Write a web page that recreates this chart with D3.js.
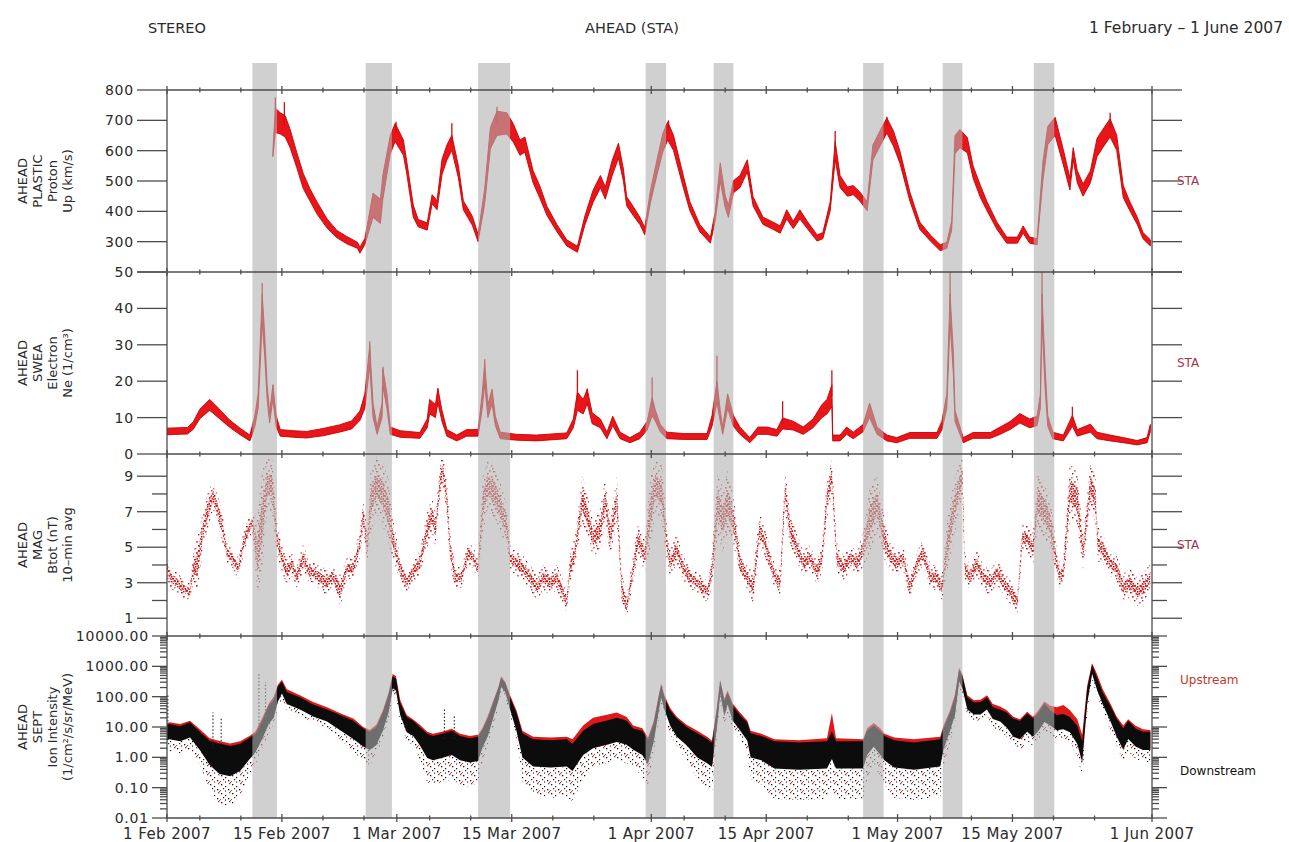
<!DOCTYPE html>
<html>
<head>
<meta charset="utf-8">
<script src="https://cdn.jsdelivr.net/npm/d3@7"></script>
<style>
  html, body { margin: 0; background: #fff; }
  text { font-family: "DejaVu Sans", "Liberation Sans", sans-serif; }
</style>
</head>
<body>
<svg id="chart" width="1289" height="842"></svg>
<script>
// ---------------------------------------------------------------
// STEREO-A in-situ overview, 1 Feb – 1 Jun 2007
// Times are days after 1 Feb 2007 00:00 UT.
// ---------------------------------------------------------------

// Shaded intervals (stream interaction regions)
const bandStart = [10.4, 24.2, 37.9, 58.3, 66.6, 84.8, 94.5, 105.6];
const bandEnd   = [13.4, 27.4, 41.8, 60.8, 69.0, 87.3, 96.9, 108.1];

// PLASTIC proton bulk speed: [day, mid value km/s, half spread]
const protonSpeed = [
  [12.9,590,10],[13.2,700,40],[13.8,690,35],[14.4,680,35],[15.0,640,30],[15.8,570,25],
  [16.6,500,25],[17.4,455,20],[18.3,410,20],[19.5,360,15],[20.7,325,12],[21.9,305,12],
  [23.2,288,10],[23.5,272,10],[24.1,300,10],[25.1,420,40],[26.0,400,40],[26.3,480,40],
  [27.2,620,30],[27.8,660,30],[28.8,610,25],[29.2,546,20],[30.0,401,20],[30.6,361,12],
  [31.7,350,12],[32.3,440,15],[32.9,420,15],[33.5,546,25],[34.1,594,25],[34.7,626,25],
  [35.5,530,20],[36.1,420,15],[37.2,369,15],[37.9,312,12],[38.7,449,25],[39.4,642,35],
  [40.2,690,40],[41.4,690,35],[42.2,658,30],[43.0,610,25],[43.6,620,25],[44.6,514,20],
  [45.4,465,20],[46.3,401,15],[47.5,345,12],[48.7,296,10],[50.0,275,10],[50.9,369,15],
  [51.9,449,20],[52.8,498,20],[53.4,460,20],[54.2,540,25],[55.0,600,25],[55.6,520,20],
  [56.0,433,15],[56.8,401,15],[57.6,369,12],[58.2,335,12],[58.9,449,20],[59.7,546,25],
  [60.4,626,30],[61.0,665,30],[61.7,626,25],[62.9,498,20],[63.7,417,15],[64.9,345,12],
  [66.2,305,10],[66.8,385,15],[67.4,530,30],[68.0,433,20],[68.4,400,20],[69.0,481,20],
  [69.8,498,20],[70.7,550,20],[71.4,433,15],[72.6,369,12],[73.8,353,12],[74.7,340,12],
  [75.5,390,15],[76.3,355,12],[77.1,390,15],[78.0,355,12],[79.2,312,10],[79.9,320,10],
  [80.8,417,15],[81.4,600,30],[82.0,498,20],[82.9,465,15],[83.6,470,15],[84.4,449,15],
  [85.3,417,15],[86.0,594,25],[86.9,642,25],[87.7,683,25],[88.5,640,25],[89.3,578,20],
  [90.5,449,15],[91.7,353,12],[93.0,312,10],[94.2,280,10],[95.0,288,10],[95.6,353,15],
  [96.0,620,30],[96.6,640,30],[97.5,618,25],[98.2,530,20],[99.1,465,20],[99.9,417,15],
  [101.1,353,12],[102.3,305,10],[103.6,305,10],[104.3,340,12],[105.1,305,10],[106.0,300,10],
  [106.7,530,30],[107.3,650,30],[108.2,680,30],[109.2,578,25],[110.0,490,20],[110.4,590,20],
  [110.9,514,20],[111.6,470,20],[112.5,514,20],[113.3,610,30],[114.0,640,30],[114.9,675,30],
  [115.7,626,25],[116.5,465,20],[117.3,417,15],[118.2,369,12],[118.9,320,10],[119.8,296,10]
];
// isolated speed excursions: [day, from, to]
const protonSpikes = [
  [13.2,700,775],[14.3,680,760],[27.9,660,695],[34.7,626,690],[40.2,690,745],
  [61.1,665,700],[81.4,600,665],[87.7,683,712],[108.2,680,708],[114.9,675,725]
];

// SWEA electron density: [day, mid value 1/cm3, half spread]
const electronDensity = [
  [0.0,6.2,0.9],[2.5,6.4,0.9],[3.2,7.8,1.0],[4.0,11,1.3],[5.2,13.5,1.5],[6.4,11,1.3],
  [7.6,8.4,1.0],[8.9,6.2,0.9],[10.1,4.4,0.8],[10.7,9,1.5],[11.1,14.5,2],[11.6,40,4],
  [11.9,30,3],[12.2,17,2],[12.5,10,1.5],[12.9,17,2],[13.3,9,1.5],[13.8,5.8,0.9],
  [15.4,5.5,0.9],[17.0,5.3,0.9],[19.0,6.0,1.0],[21.0,7.0,1.0],[22.5,8.0,1.1],[23.5,10.5,1.3],
  [24.1,14.5,2],[24.7,27,3],[25.1,12,2],[25.6,6.4,1],[26.2,12,2],[26.3,21,2.5],
  [26.8,14.5,2],[27.2,6.4,1],[28.4,5.5,0.9],[30.8,5.1,0.8],[31.7,8.4,1.2],[32.0,13,2],
  [32.7,11.8,1.8],[33.0,16,2],[33.5,10.5,1.5],[34.1,5.8,0.9],[35.3,4.4,0.8],[36.5,5.8,0.9],
  [37.9,5.8,0.9],[38.4,14.5,2],[38.7,22,3],[39.1,11.8,1.8],[39.6,15.8,2],[40.0,9.1,1.3],
  [40.6,5.1,0.9],[42.6,4.6,0.8],[45.0,4.4,0.8],[48.7,5.0,0.8],[49.5,8.4,1.2],[50.0,14.5,2.5],
  [50.7,13,2],[51.2,15.8,2],[51.8,9.8,1.5],[52.8,8.4,1.2],[53.6,5.1,0.9],[54.3,9.1,1.3],
  [55.2,5.1,0.9],[56.4,3.8,0.7],[57.6,5.1,0.9],[58.5,7.8,1.2],[59.1,13,2.5],[59.5,10.5,1.5],
  [60.1,7.1,1],[60.9,5.1,0.9],[63.0,4.8,0.8],[65.8,4.8,0.8],[66.4,9.1,1.5],[67.0,17,3],
  [67.4,10.5,1.5],[67.7,6.4,1],[68.3,14.5,2],[69.0,9.1,1.5],[69.8,6.4,1],[71.0,3.8,0.7],
  [72.0,6.4,1],[73.1,6.4,1],[74.3,5.8,0.9],[75.0,8.4,1.5],[76.3,7.8,1.2],[77.5,6.4,1],
  [78.7,8.4,1.2],[79.8,11.8,1.8],[80.4,13,2],[81.0,16,3],[81.1,4.4,0.8],[82.0,4.4,0.8],
  [82.8,6.4,1],[83.6,5.1,0.9],[84.8,7.1,1],[85.6,12,2],[86.5,6.4,1],[87.7,4.4,0.8],
  [88.9,3.8,0.7],[90.5,5.1,0.8],[93.8,5.1,0.8],[94.4,7.8,1.2],[95.0,14.5,2],[95.4,40,4],
  [95.8,25,3],[96.0,10.5,1.5],[96.4,7.8,1.2],[97.0,3.8,0.7],[98.2,5.1,0.8],[100.3,5.1,0.8],
  [101.5,6.4,1],[102.7,7.8,1.1],[103.9,9.8,1.3],[105.1,8.4,1.2],[106.0,9.1,1.3],[106.4,14.5,2],
  [106.6,40,4],[107.0,20,3],[107.3,9.1,1.5],[107.9,5.1,0.9],[109.2,4.4,0.8],[110.3,9.1,1.5],
  [110.9,5.8,0.9],[112.5,7.1,1.1],[113.3,5.1,0.9],[114.9,4.4,0.8],[116.5,3.8,0.7],
  [118.2,3.1,0.6],[119.4,3.8,0.7],[119.8,7.1,1]
];
const electronSpikes = [
  [11.6,40,47],[12.9,17,19],[24.7,27,31],[26.3,21,24],[33.0,16,18],[38.7,22,26],
  [50.0,14.5,23],[51.2,15.8,18],[59.1,13,21],[67.0,17,27],[75.0,8.4,14.5],[81.0,16,23],
  [95.4,40,50],[106.6,40,50],[110.3,9.1,13]
];

// MAG |B|, 10-min averages: [day, typical value nT, scatter half width]
const fieldStrength = [
  [0.0,3.9,0.6],[0.4,3.3,0.6],[1.2,3.0,0.6],[2.2,2.6,0.5],[2.8,2.5,0.5],[3.2,3.8,0.8],
  [3.7,4.0,1.6],[4.4,6.0,1.0],[5.0,7.1,1.0],[5.6,7.9,0.8],[6.2,7.1,0.8],[6.8,6.0,0.8],
  [7.3,4.7,0.6],[7.9,4.4,0.5],[8.7,3.8,0.6],[9.3,5.2,0.7],[9.9,6.0,0.6],[10.4,6.4,0.6],
  [11.0,4.5,2.2],[11.6,6.5,2.8],[12.2,8.5,1.5],[12.8,8.5,1.5],[13.4,5.5,1.0],[14.0,4.4,0.8],
  [14.6,3.6,0.7],[15.2,4.1,0.7],[15.8,3.3,0.6],[16.6,4.4,0.8],[17.2,3.7,0.6],[17.8,3.6,0.6],
  [18.6,3.3,0.7],[19.5,3.0,0.7],[20.2,3.4,0.6],[21.1,2.5,0.9],[21.9,3.8,0.6],[22.7,3.8,0.6],
  [23.5,5.2,0.8],[23.9,6.8,0.8],[24.4,5.0,1.0],[24.8,7.5,1.8],[25.5,8.5,1.6],[26.3,8.0,1.8],
  [27.0,7.0,1.8],[27.5,5.5,1.2],[28.4,3.8,0.7],[29.2,3.0,0.6],[30.0,3.6,0.6],[30.8,4.1,0.7],
  [31.7,6.0,1.0],[32.3,6.8,1.0],[32.7,6.0,1.0],[33.3,8.8,1.0],[33.6,9.4,0.8],[34.1,7.7,1.2],
  [34.5,4.9,1.0],[35.1,3.3,0.6],[35.9,3.3,0.6],[36.7,4.7,0.6],[37.3,4.4,0.6],[37.9,3.8,0.6],
  [38.5,7.5,1.6],[39.1,8.5,1.4],[40.0,8.0,1.4],[40.8,7.0,1.4],[41.4,6.2,1.0],[41.8,4.4,0.7],
  [42.6,4.1,0.7],[43.4,3.8,0.7],[44.2,3.3,0.7],[45.1,2.7,0.7],[45.8,3.3,0.7],[46.7,3.0,0.7],
  [47.5,3.3,0.7],[48.2,2.5,0.7],[48.7,1.9,0.6],[49.1,3.8,0.8],[49.7,4.7,0.9],[50.6,7.7,1.3],
  [51.2,6.8,1.2],[51.9,5.5,1.0],[52.8,6.0,1.2],[53.4,7.7,1.3],[54.0,5.5,1.0],[54.8,7.7,1.3],
  [55.4,2.7,0.9],[56.0,1.6,0.6],[56.8,3.8,0.8],[57.4,5.5,0.9],[58.2,4.5,0.9],[58.9,7.0,2.0],
  [59.5,8.5,1.5],[60.3,8.0,1.6],[60.9,5.2,1.0],[61.3,4.1,0.8],[62.1,4.9,0.8],[62.9,3.8,0.7],
  [63.7,3.3,0.6],[64.6,3.0,0.6],[65.3,2.7,0.6],[65.9,2.5,0.6],[66.4,3.8,1.0],[67.1,7.5,1.8],
  [67.7,6.5,1.8],[68.3,7.5,1.8],[69.0,6.5,1.5],[69.4,5.5,1.0],[69.8,4.1,0.8],[70.7,3.3,0.7],
  [71.4,2.7,0.9],[72.2,6.0,1.0],[72.9,5.2,0.8],[73.5,4.1,0.7],[74.1,3.3,0.7],[74.7,3.0,0.7],
  [75.3,8.2,1.2],[75.9,6.0,1.0],[76.8,4.9,0.8],[77.5,4.1,0.7],[78.3,4.4,0.7],[79.2,3.6,0.7],
  [79.8,4.4,0.8],[80.4,7.7,1.2],[81.0,9.0,0.9],[81.6,4.4,0.9],[82.4,3.8,0.7],[83.2,4.4,0.7],
  [84.1,4.1,0.7],[84.8,4.9,1.0],[85.6,6.5,1.8],[86.5,7.5,1.6],[87.4,5.5,1.2],[88.1,4.5,0.8],
  [88.9,4.1,0.7],[89.7,4.4,0.7],[90.5,2.7,0.7],[91.4,4.1,0.7],[92.1,4.7,0.7],[93.0,3.3,0.7],
  [93.8,3.3,0.7],[94.4,2.7,0.8],[95.0,4.9,1.4],[95.8,7.0,1.6],[96.4,8.2,1.4],[96.9,9.0,1.0],
  [97.2,3.8,0.8],[97.8,3.3,0.7],[98.7,4.1,0.7],[99.4,3.3,0.7],[100.3,3.0,0.7],[101.1,3.6,0.7],
  [101.9,3.0,0.7],[102.7,2.5,0.7],[103.6,1.9,0.6],[104.2,5.5,0.8],[104.8,5.5,0.7],[105.5,4.9,0.9],
  [106.1,7.7,1.6],[107.0,7.0,1.6],[107.6,6.3,1.4],[108.4,4.1,0.8],[108.8,3.3,0.7],[109.2,3.6,0.8],
  [110.0,8.2,1.6],[110.9,7.7,1.5],[111.6,4.7,1.0],[112.5,8.5,1.3],[113.1,7.7,1.3],[113.4,5.2,1.0],
  [114.0,4.9,0.8],[114.9,4.1,0.7],[115.7,3.8,0.7],[116.5,2.7,0.8],[117.3,3.0,0.8],[118.2,2.5,0.8],
  [118.9,2.7,0.8],[119.8,3.3,0.8]
];

// SEPT ion intensity: [day, downstream, upstream, core width (decades), low scatter (decades)]
const ionIntensity = [
  [0.0,6.5,7.5,0.25,0.4],[0.3,7,8,0.25,0.4],[1.6,6,7,0.25,0.4],[2.8,8,9,0.25,0.4],
  [4.0,3.5,4.2,0.3,0.5],[5.2,1.4,1.7,0.4,0.8],[6.4,0.9,1.1,0.5,1.0],[7.7,0.75,0.9,0.5,1.0],
  [8.9,1.0,1.2,0.45,0.8],[10.1,2.0,2.3,0.35,0.5],[10.8,3,3.6,0.3,0.4],[11.6,8,10,0.3,0.3],
  [12.4,25,30,0.3,0.3],[13.0,40,50,0.3,0.2],[13.5,120,140,0.25,0.2],[14.0,200,230,0.2,0.2],
  [14.6,90,110,0.2,0.2],[16.2,60,70,0.2,0.2],[17.8,35,42,0.2,0.2],[19.5,24,28,0.2,0.2],
  [21.1,14,16,0.25,0.3],[22.7,8,9.5,0.3,0.4],[23.9,4.5,5,0.3,0.5],[24.7,3.5,4,0.3,0.5],
  [25.5,5,6,0.3,0.3],[26.3,15,18,0.3,0.3],[27.0,60,70,0.3,0.3],[27.5,300,350,0.2,0.2],
  [27.9,250,300,0.2,0.2],[28.4,40,50,0.2,0.2],[29.2,12,14,0.25,0.3],[30.0,9,10,0.25,0.3],
  [30.8,5,6,0.3,0.5],[31.7,2.4,2.8,0.4,0.8],[32.4,2.0,2.4,0.4,0.8],[33.5,2.4,2.8,0.4,0.8],
  [34.7,3,3.5,0.4,0.8],[35.7,2.0,2.4,0.4,0.8],[36.9,1.7,2.0,0.4,0.8],[37.9,1.9,2.2,0.4,0.7],
  [38.4,4,4.5,0.3,0.5],[39.1,10,12,0.3,0.3],[39.8,40,45,0.25,0.3],[40.4,126,140,0.2,0.2],
  [40.7,300,330,0.15,0.2],[41.2,200,220,0.15,0.2],[41.8,60,70,0.2,0.2],[42.6,14,17,0.3,0.3],
  [43.3,2.5,3,0.4,0.8],[44.6,1.4,1.7,0.45,0.9],[46.7,1.3,1.6,0.45,1.0],[48.7,1.4,1.7,0.45,1.0],
  [49.4,1.0,1.4,0.45,1.0],[50.7,3,4.5,0.4,0.8],[51.9,5,8,0.4,0.6],[53.6,6.5,10,0.4,0.6],
  [54.8,8,12,0.4,0.6],[56.0,6.5,8.5,0.4,0.6],[56.8,4,5,0.35,0.6],[57.9,3,3.6,0.4,0.7],
  [58.6,1.5,1.8,0.4,0.7],[59.3,6.6,8,0.3,0.4],[59.8,40,45,0.25,0.3],[60.2,150,170,0.2,0.2],
  [60.6,60,70,0.2,0.2],[61.3,20,24,0.25,0.3],[62.1,9.5,11,0.3,0.3],[63.3,5,6,0.3,0.5],
  [64.6,2.5,3,0.4,0.7],[65.8,1.6,1.9,0.4,0.8],[66.4,1.2,1.4,0.4,0.8],[67.0,20,24,0.3,0.3],
  [67.4,200,220,0.2,0.3],[67.9,40,48,0.25,0.3],[68.3,87,100,0.2,0.3],[68.9,29,34,0.25,0.3],
  [69.8,14,17,0.25,0.3],[70.7,7,8,0.3,0.4],[71.1,2.5,3,0.4,0.7],[72.4,2.0,2.4,0.4,0.8],
  [74.0,1.2,1.4,0.45,1.0],[77.0,1.1,1.3,0.45,1.0],[80.4,1.2,1.5,0.45,1.0],[81.0,2.5,10,0.45,0.9],
  [81.5,1.2,1.5,0.45,1.0],[84.8,1.2,1.4,0.45,1.0],[85.3,3,3.6,0.4,0.8],[86.1,5,6,0.35,0.6],
  [86.9,3,3.6,0.4,0.7],[87.4,2,2.4,0.4,0.8],[88.6,1.3,1.6,0.45,1.0],[91.0,1.1,1.4,0.45,1.0],
  [94.2,1.4,1.7,0.45,1.0],[94.6,4,5,0.35,0.6],[95.4,15,18,0.3,0.4],[96.0,50,60,0.3,0.3],
  [96.5,500,560,0.2,0.2],[96.9,300,340,0.2,0.2],[97.5,60,70,0.2,0.2],[98.3,41,48,0.2,0.2],
  [99.1,41,50,0.2,0.2],[99.9,60,70,0.2,0.2],[100.6,29,36,0.2,0.3],[101.5,24,30,0.2,0.3],
  [102.3,17,20,0.25,0.3],[103.1,9.5,11,0.3,0.3],[103.9,7.9,9,0.3,0.4],[104.8,14,16,0.3,0.3],
  [105.5,9.5,11,0.3,0.3],[106.1,14,17,0.3,0.3],[106.9,29,35,0.3,0.3],[107.6,20,28,0.25,0.3],
  [108.4,14,25,0.25,0.3],[109.2,15,30,0.25,0.3],[110.0,12,20,0.25,0.3],[110.9,5.5,9,0.3,0.4],
  [111.5,1.5,2.5,0.35,0.5],[112.1,100,130,0.25,0.3],[112.7,800,900,0.15,0.2],[113.3,270,350,0.2,0.2],
  [114.0,87,110,0.2,0.2],[114.9,29,35,0.25,0.3],[115.7,9.5,11,0.3,0.3],[116.5,4,5,0.35,0.4],
  [117.1,8,9,0.3,0.4],[118.0,4.5,5.5,0.3,0.4],[118.9,3.5,4.2,0.3,0.4],[119.8,3.5,4,0.3,0.4]
];
// short intensity bursts: [day, from, to]
const ionSpikes = [
  [0.1,9,120],[5.6,2,30],[6.6,2,20],[11.2,12,600],[12.0,20,300],[27.6,300,450],
  [33.8,4,40],[35.0,4,25],[40.8,300,420],[60.3,150,250],[67.4,200,320],[96.6,500,700],
  [112.7,900,1200]
];

// Axis ticks and labels
const speedTicks = [300, 400, 500, 600, 700, 800];
const densityTicks = [0, 10, 20, 30, 40, 50];
const fieldTicks = [1, 3, 5, 7, 9];
const fieldMinorTicks = [2, 4, 6, 8];
const intensityTicks = [0.01, 0.1, 1, 10, 100, 1000, 10000];
const dateLabels = ["1 Feb 2007", "15 Feb 2007", "1 Mar 2007", "15 Mar 2007", "1 Apr 2007",
                    "15 Apr 2007", "1 May 2007", "15 May 2007", "1 Jun 2007"];
const minorDays = [5, 10, 20, 25];

const panelTitles = [
  ["AHEAD", "PLASTIC", "Proton", "Up (km/s)"],
  ["AHEAD", "SWEA", "Electron", "Ne (1/cm³)"],
  ["AHEAD", "MAG", "Btot (nT)", "10–min avg"],
  ["AHEAD", "SEPT", "Ion Intensity", "(1/cm²/s/sr/MeV)"]
];

// ---------------------------------------------------------------
const svg = d3.select("#chart");
svg.append("rect").attr("width", 1289).attr("height", 842).attr("fill", "#fff");

const X0 = 167, X1 = 1152;
const edges = [90, 272, 454, 636, 818];
const axisColor = "#4d4d4d", textColor = "#2b2b2b";

const t0 = Date.UTC(2007, 1, 1);
const toDate = d => new Date(t0 + d * 864e5);
const x = d3.scaleUtc().domain([toDate(0), toDate(120)]).range([X0, X1]);
const xd = d => x(toDate(d[0]));

const ySpeed = d3.scaleLinear().domain([200, 800]).range([edges[1], edges[0]]);
const yDens  = d3.scaleLinear().domain([0, 50]).range([edges[2], edges[1]]);
const yField = d3.scaleLinear().domain([0, 10.25]).range([edges[3], edges[2]]);
const yIon   = d3.scaleLog().domain([0.01, 10000]).range([edges[4], edges[3]]);

// ---------- defs: clip regions and dot textures ----------
const defs = svg.append("defs");
for (let i = 0; i < 4; i++) {
  defs.append("clipPath").attr("id", "clip" + i)
    .append("rect").attr("x", X0).attr("y", edges[i])
    .attr("width", X1 - X0).attr("height", edges[i + 1] - edges[i]);
}
function dotTexture(id, w, h, dots) {
  const p = defs.append("pattern").attr("id", id)
    .attr("patternUnits", "userSpaceOnUse").attr("width", w).attr("height", h);
  dots.forEach(([dx, dy, c, s]) =>
    p.append("rect").attr("x", dx).attr("y", dy).attr("width", s).attr("height", s).attr("fill", c));
}
dotTexture("fieldSparse", 13, 11, [
  [1,2,"#d42a2a",1.7],[6,0,"#8a1c1c",1.4],[10,3,"#e24a4a",1.7],[3,6,"#b02020",1.4],
  [8,8,"#e86060",1.7],[12,9,"#9a1a1a",1.4],[0,9,"#e05050",1.4],[11,6,"#c83030",1.4],
  [5,4,"#f07070",1.5]
]);
dotTexture("fieldDense", 6, 5, [
  [0,0,"#e01010",1.9],[3,1,"#a01010",1.5],[1.5,2.6,"#f03030",1.9],[4.5,3,"#c01818",1.6],
  [2.5,4.2,"#901010",1.3],[5,0.5,"#e83a3a",1.2]
]);
dotTexture("ionScatter", 11, 9, [
  [1,1,"#111",1.3],[5,3,"#111",1.2],[9,0,"#c22",1.3],[3,5,"#222",1.2],
  [8,6,"#111",1.3],[10,8,"#c33",1.2],[5,7.5,"#111",1.1],[0,7,"#d33",1.1]
]);

const dataLayer = svg.append("g");
const red = "#e8161b";

// ---------- panel 1: proton speed ----------
const g1 = dataLayer.append("g").attr("clip-path", "url(#clip0)");
g1.append("path").datum(protonSpeed)
  .attr("d", d3.area().x(xd).y0(d => ySpeed(d[1] - d[2])).y1(d => ySpeed(d[1] + d[2])))
  .attr("fill", red).attr("stroke", "#c80000").attr("stroke-width", 0.9);
g1.selectAll("line").data(protonSpikes).join("line")
  .attr("x1", xd).attr("x2", xd).attr("y1", d => ySpeed(d[1])).attr("y2", d => ySpeed(d[2]))
  .attr("stroke", "#c81010").attr("stroke-width", 1.3);

// ---------- panel 2: electron density ----------
const g2 = dataLayer.append("g").attr("clip-path", "url(#clip1)");
g2.append("path").datum(electronDensity)
  .attr("d", d3.area().x(xd).y0(d => yDens(d[1] - d[2])).y1(d => yDens(d[1] + d[2])))
  .attr("fill", red).attr("stroke", "#c80000").attr("stroke-width", 0.9);
g2.selectAll("line").data(electronSpikes).join("line")
  .attr("x1", xd).attr("x2", xd).attr("y1", d => yDens(d[1])).attr("y2", d => yDens(d[2]))
  .attr("stroke", "#d01010").attr("stroke-width", 1.3);

// ---------- panel 3: magnetic field ----------
const g3 = dataLayer.append("g").attr("clip-path", "url(#clip2)");
g3.append("path").datum(fieldStrength)
  .attr("d", d3.area().x(xd).y0(d => yField(d[1] - d[2])).y1(d => yField(d[1] + d[2])))
  .attr("fill", "url(#fieldSparse)");
g3.append("path").datum(fieldStrength)
  .attr("d", d3.area().x(xd).y0(d => yField(d[1] - 0.4 * d[2])).y1(d => yField(d[1] + 0.4 * d[2])))
  .attr("fill", "url(#fieldDense)");

// ---------- panel 4: ion intensity ----------
const g4 = dataLayer.append("g").attr("clip-path", "url(#clip3)");
g4.append("path").datum(ionIntensity)
  .attr("d", d3.area().x(xd)
    .y0(d => yIon(d[1] * Math.pow(10, -d[3] - d[4])))
    .y1(d => yIon(d[1] * Math.pow(10, -d[3]))))
  .attr("fill", "url(#ionScatter)");
g4.append("path").datum(ionIntensity)
  .attr("d", d3.area().x(xd)
    .y0(d => yIon(d[2] * Math.pow(10, -d[3])))
    .y1(d => yIon(d[2] * Math.pow(10, d[3]))))
  .attr("fill", "#e01818");
g4.append("path").datum(ionIntensity)
  .attr("d", d3.area().x(xd)
    .y0(d => yIon(d[1] * Math.pow(10, -d[3])))
    .y1(d => yIon(d[1] * Math.pow(10, d[3]))))
  .attr("fill", "#0c0c0c");
g4.selectAll("line").data(ionSpikes).join("line")
  .attr("x1", xd).attr("x2", xd).attr("y1", d => yIon(d[1])).attr("y2", d => yIon(d[2]))
  .attr("stroke", "#222").attr("stroke-width", 1.1).attr("stroke-dasharray", "1.5,2");

// ---------- shaded intervals (drawn over the data, translucent) ----------
svg.append("g").selectAll("rect").data(d3.zip(bandStart, bandEnd)).join("rect")
  .attr("x", d => x(toDate(d[0])))
  .attr("width", d => x(toDate(d[1])) - x(toDate(d[0])))
  .attr("y", 63).attr("height", edges[4] - 63)
  .attr("fill", "#b0b0b0").attr("opacity", 0.6);

// ---------- axes ----------
const ax = svg.append("g").attr("stroke", axisColor).attr("stroke-width", 1.3);
ax.append("line").attr("x1", X0).attr("x2", X0).attr("y1", edges[0]).attr("y2", edges[4]);
ax.append("line").attr("x1", X1).attr("x2", X1).attr("y1", edges[0]).attr("y2", edges[4]);

// time ticks on every panel edge
const parseLabel = d3.utcParse("%d %b %Y");
const majorDates = dateLabels.map(parseLabel);
const minorDates = d3.utcDay.range(toDate(0), toDate(120))
  .filter(d => minorDays.includes(d.getUTCDate()));
edges.forEach(ey => {
  ax.append("line").attr("x1", X0).attr("x2", X1).attr("y1", ey).attr("y2", ey);
  majorDates.forEach(d => ax.append("line")
    .attr("x1", x(d)).attr("x2", x(d)).attr("y1", ey - 4).attr("y2", ey + 4));
  minorDates.forEach(d => ax.append("line")
    .attr("x1", x(d)).attr("x2", x(d)).attr("y1", ey - 2.5).attr("y2", ey + 2.5));
});

const labels = svg.append("g").attr("fill", textColor);
function yTicks(scale, values, len, fmt) {
  values.forEach(v => {
    const yy = scale(v);
    ax.append("line").attr("x1", X0 - len).attr("x2", X0).attr("y1", yy).attr("y2", yy);
    ax.append("line").attr("x1", X1).attr("x2", X1 + len).attr("y1", yy).attr("y2", yy);
    if (fmt) labels.append("text").attr("x", X0 - len - 3).attr("y", yy)
      .attr("text-anchor", "end").attr("dominant-baseline", "central")
      .attr("font-size", 14).attr("letter-spacing", 0.8).text(fmt(v));
  });
}
yTicks(ySpeed, [200], 30, null);
yTicks(ySpeed, speedTicks, 30, d3.format("d"));
yTicks(yDens, densityTicks, 30, d3.format("d"));
yTicks(yField, fieldTicks, 30, d3.format("d"));
yTicks(yField, fieldMinorTicks, 15, null);
yTicks(yIon, intensityTicks, 15, d3.format(".2f"));
const ionMinor = [];
intensityTicks.slice(0, -1).forEach(dec => [2,3,4,5,6,7,8,9].forEach(m => ionMinor.push(dec * m)));
yTicks(yIon, ionMinor, 7, null);

// date labels
majorDates.forEach((d, i) => labels.append("text")
  .attr("x", x(d)).attr("y", 839).attr("text-anchor", "middle")
  .attr("font-size", 15).attr("letter-spacing", 0.4).text(dateLabels[i]));

// panel titles (rotated, one column per line)
const titleCols = [22, 37, 52, 67];
panelTitles.forEach((lines, i) => {
  const yc = (edges[i] + edges[i + 1]) / 2;
  lines.forEach((s, j) => labels.append("text")
    .attr("transform", `translate(${titleCols[j]},${yc}) rotate(-90)`)
    .attr("text-anchor", "middle").attr("dominant-baseline", "central")
    .attr("font-size", 13).text(s));
});

// right-hand tags
[0, 1, 2].forEach(i => labels.append("text")
  .attr("x", 1177).attr("y", (edges[i] + edges[i + 1]) / 2)
  .attr("dominant-baseline", "central").attr("font-size", 12)
  .attr("fill", "#a8324a").text("STA"));
labels.append("text").attr("x", 1180).attr("y", 680).attr("dominant-baseline", "central")
  .attr("font-size", 12).attr("fill", "#c0392b").text("Upstream");
labels.append("text").attr("x", 1180).attr("y", 771).attr("dominant-baseline", "central")
  .attr("font-size", 12).attr("fill", "#111").text("Downstream");

// header
labels.append("text").attr("x", 148).attr("y", 33).attr("font-size", 14.5).text("STEREO");
labels.append("text").attr("x", 632).attr("y", 33).attr("font-size", 14.5)
  .attr("text-anchor", "middle").text("AHEAD (STA)");
labels.append("text").attr("x", 1283).attr("y", 33).attr("font-size", 15.5)
  .attr("text-anchor", "end").text("1 February – 1 June 2007");
</script>
</body>
</html>
